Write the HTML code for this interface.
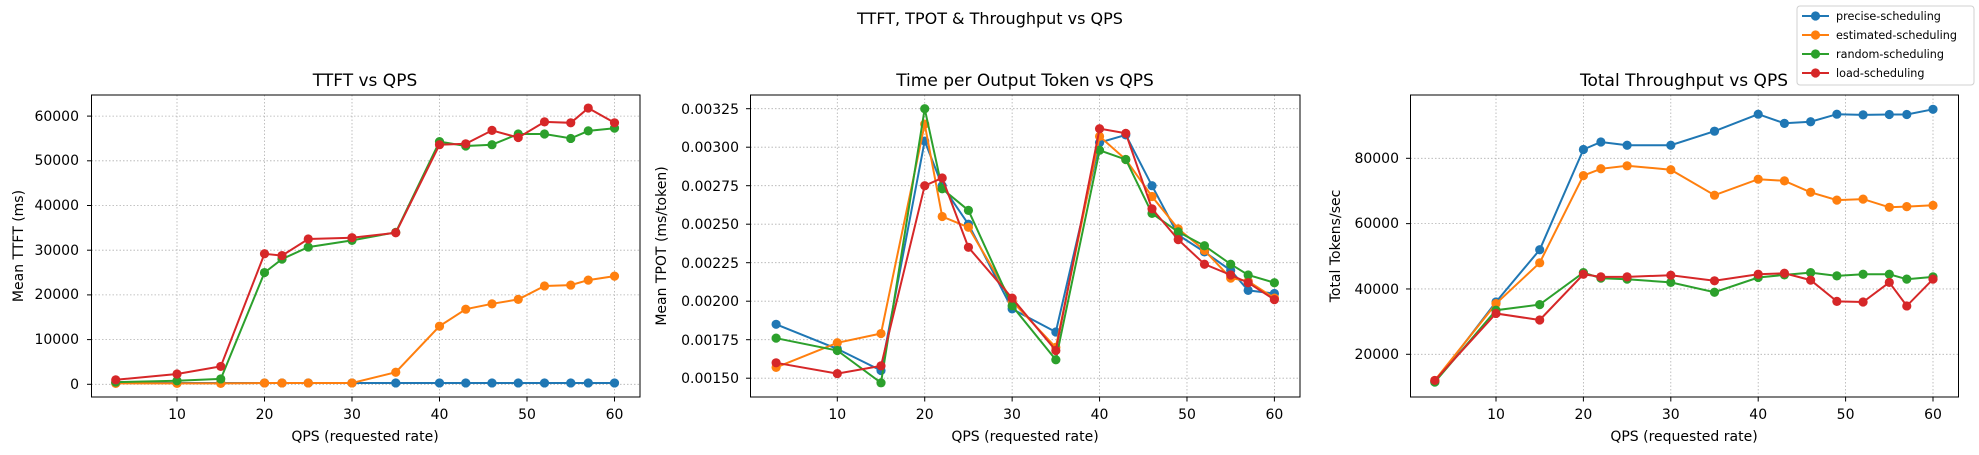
<!DOCTYPE html>
<html><head><meta charset="utf-8"><style>
body{margin:0;background:#fff;overflow:hidden}
svg{display:block;font-family:"DejaVu Sans","Liberation Sans",sans-serif}
.t{font-size:14px;fill:#000}
.g{stroke:#b0b0b0;stroke-width:0.8;stroke-dasharray:1.5,2}
</style></head><body>
<svg id="s" width="1979" height="455" viewBox="0 0 1979 455">
<defs><clipPath id="c1"><rect x="91.5" y="95" width="548.5" height="302"/></clipPath><clipPath id="c2"><rect x="750.5" y="95" width="549.5" height="302"/></clipPath><clipPath id="c3"><rect x="1410.5" y="95" width="548" height="302"/></clipPath></defs>
<rect width="1979" height="455" fill="#fff"/>
<text x="990" y="24" font-size="16" text-anchor="middle">TTFT, TPOT &amp; Throughput vs QPS</text>
<text x="365" y="86" font-size="17" text-anchor="middle">TTFT vs QPS</text>
<text x="1025" y="86" font-size="17" text-anchor="middle">Time per Output Token vs QPS</text>
<text x="1684" y="86" font-size="17" text-anchor="middle">Total Throughput vs QPS</text>
<g id="grid"></g>
<g class="t" text-anchor="end">
<text x="79" y="389">0</text><text x="79" y="344">10000</text><text x="79" y="299">20000</text><text x="79" y="255">30000</text><text x="79" y="210">40000</text><text x="79" y="165">50000</text><text x="79" y="121">60000</text>
<text x="739" y="383">0.00150</text><text x="739" y="345">0.00175</text><text x="739" y="306">0.00200</text><text x="739" y="268">0.00225</text><text x="739" y="229">0.00250</text><text x="739" y="191">0.00275</text><text x="739" y="152">0.00300</text><text x="739" y="114">0.00325</text>
<text x="1399" y="359">20000</text><text x="1399" y="294">40000</text><text x="1399" y="228">60000</text><text x="1399" y="163">80000</text>
</g>
<g class="t" text-anchor="middle">
<text x="177" y="419">10</text><text x="264.5" y="419">20</text><text x="352" y="419">30</text><text x="439.5" y="419">40</text><text x="527" y="419">50</text><text x="614.5" y="419">60</text>
<text x="837.3" y="419">10</text><text x="924.7" y="419">20</text><text x="1012" y="419">30</text><text x="1099.5" y="419">40</text><text x="1187" y="419">50</text><text x="1274.4" y="419">60</text>
<text x="1496" y="419">10</text><text x="1583.4" y="419">20</text><text x="1670.8" y="419">30</text><text x="1758.2" y="419">40</text><text x="1845.6" y="419">50</text><text x="1933" y="419">60</text>
<text x="365" y="441">QPS (requested rate)</text><text x="1025" y="441">QPS (requested rate)</text><text x="1684" y="441">QPS (requested rate)</text>
<text transform="translate(23,246) rotate(-90)">Mean TTFT (ms)</text>
<text transform="translate(666,246) rotate(-90)">Mean TPOT (ms/token)</text>
<text transform="translate(1340,246) rotate(-90)">Total Tokens/sec</text>
</g>
<g id="data"></g>
<g fill="none" stroke="#000" stroke-width="1">
<rect x="91.5" y="95" width="548.5" height="302"/>
<rect x="750.5" y="95" width="549.5" height="302"/>
<rect x="1410.5" y="95" width="548" height="302"/>
</g>
<rect x="1797" y="6" width="177" height="79" rx="3" fill="#fff" fill-opacity="0.85" stroke="#d0d0d0"/>
<g font-size="11.2">
<text x="1836" y="20">precise-scheduling</text>
<text x="1836" y="39">estimated-scheduling</text>
<text x="1836" y="58">random-scheduling</text>
<text x="1836" y="77">load-scheduling</text>
</g>
<g id="leg"></g>
</svg>
<script>
var C=['#1f77b4','#ff7f0e','#2ca02c','#d62728'];
var Q=[3,10,15,20,22,25,30,35,40,43,46,49,52,55,57,60];
var P=[
 {x:function(q){return 177+(q-10)*8.75},y:function(v){return 384.3-v/10000*44.7},
  yt:[0,10000,20000,30000,40000,50000,60000],L:91.5,R:640,
  d:[[300,300,300,300,300,300,300,300,300,300,300,300,300,300,300,300],
     [200,200,200,300,300,300,300,2700,13000,16800,18000,19000,22000,22200,23300,24200],
     [500,800,1200,25000,28000,30700,32200,34000,54300,53300,53600,56000,56000,55000,56700,57300],
     [1000,2300,4000,29200,28800,32500,32800,33900,53600,53800,56800,55200,58700,58500,61800,58500]]},
 {x:function(q){return 837.3+(q-10)*8.742},y:function(v){return 108.7+(0.00325-v)/0.00025*38.5},
  yt:[0.0015,0.00175,0.002,0.00225,0.0025,0.00275,0.003,0.00325],L:750.5,R:1300,
  d:[[0.00185,0.00169,0.00155,0.00304,0.00275,0.0025,0.00195,0.0018,0.00303,0.00308,0.00275,0.00243,0.00232,0.0022,0.00207,0.00205],
     [0.00157,0.00173,0.00179,0.00315,0.00255,0.00248,0.002,0.0017,0.00307,0.00292,0.00268,0.00247,0.00233,0.00215,0.00213,0.00202],
     [0.00176,0.00168,0.00147,0.00325,0.00273,0.00259,0.00197,0.00162,0.00298,0.00292,0.00257,0.00245,0.00236,0.00224,0.00217,0.00212],
     [0.0016,0.00153,0.00158,0.00275,0.0028,0.00235,0.00202,0.00168,0.00312,0.00309,0.0026,0.0024,0.00224,0.00217,0.00212,0.00201]]},
 {x:function(q){return 1496+(q-10)*8.74},y:function(v){return 158.3+(80000-v)/20000*65.33},
  yt:[20000,40000,60000,80000],L:1410.5,R:1958.5,
  d:[[11500,36000,52000,82700,85000,84000,84000,88300,93500,90700,91200,93500,93300,93400,93400,95000],
     [12000,35500,48000,74700,76800,77700,76500,68700,73600,73100,69600,67200,67500,65000,65200,65600],
     [11500,33500,35200,45000,43300,43000,42000,39000,43500,44300,45000,44000,44500,44500,43000,43700],
     [12000,32500,30500,44500,43700,43700,44200,42500,44500,44800,42700,36200,36000,42000,34800,43000]]}
];
var NS='http://www.w3.org/2000/svg',g=document.getElementById('grid'),dd=document.getElementById('data');
function el(p,tag,a){var e=document.createElementNS(NS,tag);for(var k in a)e.setAttribute(k,a[k]);p.appendChild(e);return e}
P.forEach(function(p){
 [10,20,30,40,50,60].forEach(function(q){var x=p.x(q);el(g,'line',{x1:x,x2:x,y1:95,y2:397,'class':'g'});el(g,'line',{x1:x,x2:x,y1:397,y2:401.5,stroke:'#000'})});
 p.yt.forEach(function(v){var y=p.y(v);el(g,'line',{x1:p.L,x2:p.R,y1:y,y2:y,'class':'g'});el(g,'line',{x1:p.L-4.5,x2:p.L,y1:y,y2:y,stroke:'#000'})});
 p.d.forEach(function(s,i){
  var pts=s.map(function(v,j){return p.x(Q[j]).toFixed(1)+','+p.y(v).toFixed(1)});
  el(dd,'polyline',{points:pts.join(' '),fill:'none',stroke:C[i],'stroke-width':2});
  s.forEach(function(v,j){el(dd,'circle',{cx:p.x(Q[j]),cy:p.y(v),r:4.6,fill:C[i]})});
 });
});
var lg=document.getElementById('leg');
C.forEach(function(c,i){var y=16+i*19;el(lg,'line',{x1:1802,x2:1829,y1:y,y2:y,stroke:c,'stroke-width':2});el(lg,'circle',{cx:1815.5,cy:y,r:4.6,fill:c})});
</script>
</body></html>
